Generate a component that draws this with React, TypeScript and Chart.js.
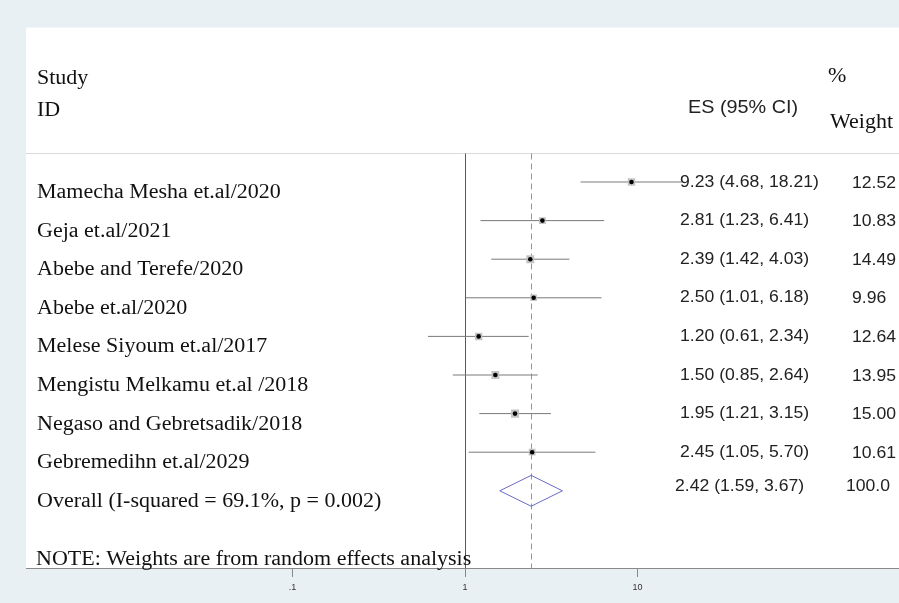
import React, { useEffect, useRef } from 'react';
import { Chart, registerables } from 'chart.js';

Chart.register(...registerables);

// ---------- data ----------
const studies = [
  'Mamecha Mesha et.al/2020',
  'Geja et.al/2021',
  'Abebe and Terefe/2020',
  'Abebe et.al/2020',
  'Melese Siyoum et.al/2017',
  'Mengistu Melkamu et.al /2018',
  'Negaso and Gebretsadik/2018',
  'Gebremedihn et.al/2029',
];
const es = [9.23, 2.81, 2.39, 2.5, 1.2, 1.5, 1.95, 2.45];
const ciLow = [4.68, 1.23, 1.42, 1.01, 0.61, 0.85, 1.21, 1.05];
const ciHigh = [18.21, 6.41, 4.03, 6.18, 2.34, 2.64, 3.15, 5.7];
const weights = [12.52, 10.83, 14.49, 9.96, 12.64, 13.95, 15.0, 10.61];
const overallLabel = 'Overall (I-squared = 69.1%, p = 0.002)';
const overallES = 2.42;
const overallLow = 1.59;
const overallHigh = 3.67;
const overallWeight = '100.0';
const tickValues = [0.1, 1, 10];
const tickLabels = ['.1', '1', '10'];
const noteText = 'NOTE: Weights are from random effects analysis';

// ---------- style ----------
const SX = 1.1; // horizontal text stretch
const SERIF = '"Liberation Serif", "Times New Roman", serif';
const SANS = '"Liberation Sans", Arial, Helvetica, sans-serif';
const BG = '#e9f0f3';

const fmt = (v: number) => v.toFixed(2);

export default function App() {
  const ref = useRef<HTMLCanvasElement>(null);

  useEffect(() => {
    document.body.style.margin = '0';
    const canvas = ref.current!;
    const overallRow = studies.length;
    const DH = 0.4; // half-height of diamond in row units

    const ciSets = studies.map((_, i) => ({
      data: [
        { x: ciLow[i], y: i },
        { x: ciHigh[i], y: i },
      ],
      showLine: true,
      borderColor: '#7a7a7a',
      borderWidth: 1,
      pointRadius: 0,
      order: 4,
    }));

    const pts = es.map((v, i) => ({ x: v, y: i }));

    const boxes = {
      data: pts,
      pointStyle: 'rect',
      pointRadius: weights.map((w) => (2.1 * Math.sqrt(w)) / Math.SQRT2),
      backgroundColor: '#c4c4c4',
      borderWidth: 0,
      order: 2,
    };
    const dots = {
      data: pts,
      pointStyle: 'circle',
      pointRadius: 2.3,
      backgroundColor: '#000000',
      borderWidth: 0,
      order: 1,
    };
    const diamond = {
      data: [
        { x: overallLow, y: overallRow },
        { x: overallES, y: overallRow - DH },
        { x: overallHigh, y: overallRow },
        { x: overallES, y: overallRow + DH },
        { x: overallLow, y: overallRow },
      ],
      showLine: true,
      borderColor: '#6a6ac8',
      borderWidth: 1,
      pointRadius: 0,
      fill: false,
      order: 3,
    };

    const text = (
      ctx: CanvasRenderingContext2D,
      t: string,
      x: number,
      y: number,
      font: string,
      color = '#111'
    ) => {
      ctx.save();
      ctx.font = font;
      ctx.fillStyle = color;
      ctx.textAlign = 'left';
      ctx.textBaseline = 'alphabetic';
      ctx.translate(x, y);
      ctx.scale(SX, 1);
      ctx.fillText(t, 0, 0);
      ctx.restore();
    };

    const forestPlugin = {
      id: 'forest',
      beforeDraw(chart: any) {
        const { ctx, chartArea: a } = chart;
        ctx.save();
        ctx.fillStyle = BG;
        ctx.fillRect(0, 0, chart.width, chart.height);
        ctx.fillStyle = '#ffffff';
        ctx.fillRect(a.left, a.top, a.right - a.left, a.bottom - a.top);
        ctx.restore();
      },
      beforeDatasetsDraw(chart: any) {
        const { ctx, chartArea: a, scales } = chart;
        const xs = scales.x;
        const divY = Math.round(a.top + 125.4) + 0.5;
        ctx.save();
        // divider under the header
        ctx.strokeStyle = '#dadada';
        ctx.lineWidth = 1;
        ctx.beginPath();
        ctx.moveTo(a.left, divY);
        ctx.lineTo(a.right, divY);
        ctx.stroke();
        // line of no effect
        const x1 = Math.round(xs.getPixelForValue(1)) + 0.5;
        ctx.strokeStyle = '#5a5a5a';
        ctx.beginPath();
        ctx.moveTo(x1, divY);
        ctx.lineTo(x1, a.bottom);
        ctx.stroke();
        // overall estimate dashed line
        const xo = Math.round(xs.getPixelForValue(overallES)) + 0.5;
        ctx.strokeStyle = '#e27474';
        ctx.setLineDash([6, 4]);
        ctx.beginPath();
        ctx.moveTo(xo, divY);
        ctx.lineTo(xo, a.bottom);
        ctx.stroke();
        ctx.restore();
      },
      afterDatasetsDraw(chart: any) {
        const { ctx, chartArea: a, scales } = chart;
        const ys = scales.y;
        const serif = `20px ${SERIF}`;
        const sansHead = `18px ${SANS}`;
        const sansES = `16px ${SANS}`;
        const sansW = `16px ${SANS}`;
        // headers
        text(ctx, 'Study', 37, a.top + 56.4, serif);
        text(ctx, 'ID', 37, a.top + 88.5, serif);
        text(ctx, 'ES (95% CI)', 688, a.top + 85.4, sansHead, '#222');
        text(ctx, '%', 828, a.top + 54.4, serif);
        text(ctx, 'Weight', 830, a.top + 100.4, serif);
        // rows
        studies.forEach((s, i) => {
          const y = ys.getPixelForValue(i);
          text(ctx, s, 37, y + 16, serif);
          text(ctx, `${fmt(es[i])} (${fmt(ciLow[i])}, ${fmt(ciHigh[i])})`, 680, y + 4.5, sansES, '#222');
          text(ctx, fmt(weights[i]), 852, y + 5.5, sansW, '#222');
        });
        const yo = ys.getPixelForValue(overallRow);
        text(ctx, overallLabel, 37, yo + 16.5, serif);
        text(ctx, `${fmt(overallES)} (${fmt(overallLow)}, ${fmt(overallHigh)})`, 675, yo + 0.5, sansES, '#222');
        text(ctx, overallWeight, 846, yo + 0.5, sansW, '#222');
        text(ctx, noteText, 36, a.bottom - 3, serif);
      },
    };

    const chart = new Chart(canvas, {
      type: 'scatter',
      data: { datasets: [...ciSets, diamond, boxes, dots] as any },
      options: {
        animation: false,
        responsive: false,
        devicePixelRatio: 1,
        layout: { autoPadding: false, padding: { left: 26, top: 27.6, right: 0, bottom: 0 } },
        plugins: { legend: { display: false }, tooltip: { enabled: false } },
        events: [],
        scales: {
          x: {
            type: 'logarithmic',
            bounds: 'data',
            min: Math.pow(10, -2.545),
            max: Math.pow(10, 2.516),
            afterBuildTicks: (scale: any) => {
              scale.ticks = tickValues.map((v) => ({ value: v }));
            },
            afterFit: (scale: any) => {
              scale.height = 35;
              scale.paddingLeft = 0;
              scale.paddingRight = 0;
            },
            ticks: {
              autoSkip: false,
              maxRotation: 0,
              padding: 5,
              color: '#333',
              font: { family: SANS, size: 9 },
              callback: (v: any) => {
                const idx = tickValues.findIndex((t) => Math.abs(t - Number(v)) < 1e-9);
                return idx >= 0 ? tickLabels[idx] : '';
              },
            },
            grid: { drawOnChartArea: false, drawTicks: true, tickLength: 9, color: '#8a8a8a' },
            border: { display: true, color: '#8a8a8a', width: 1 },
          },
          y: {
            type: 'linear',
            min: -4,
            max: 10,
            reverse: true,
            display: false,
          },
        },
      },
      plugins: [forestPlugin],
    } as any);

    return () => chart.destroy();
  }, []);

  return <canvas ref={ref} width={899} height={603} style={{ display: 'block' }} />;
}
